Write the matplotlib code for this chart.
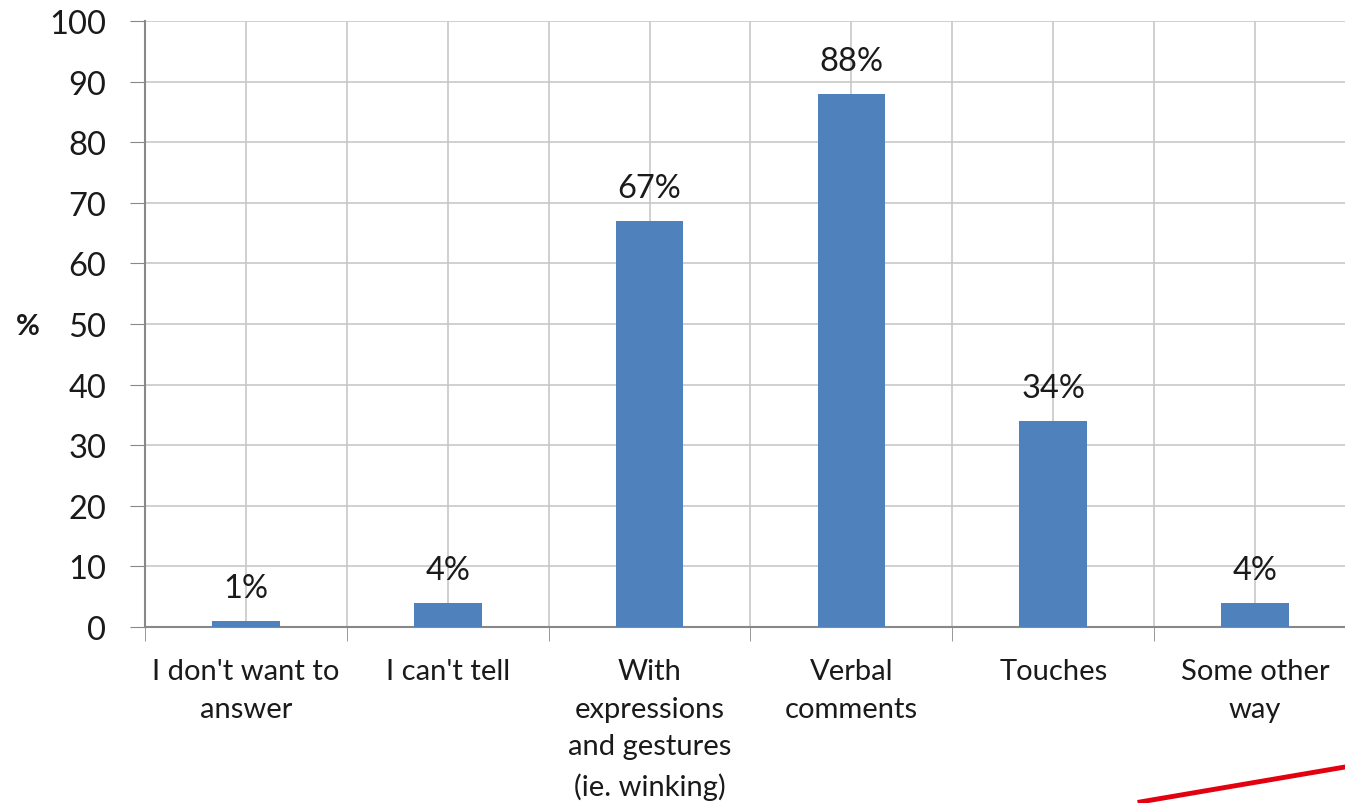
"""Bar chart: ways of harassment, % of respondents."""

import matplotlib

matplotlib.use("Agg")
import matplotlib.pyplot as plt  # noqa: E402
from matplotlib.lines import Line2D  # noqa: E402
import numpy as np  # noqa: E402

categories = [
    "I don't want to\nanswer",
    "I can't tell",
    "With\nexpressions\nand gestures\n(ie. winking)",
    "Verbal\ncomments",
    "Touches",
    "Some other\nway",
]
values = [1, 4, 67, 88, 34, 4]
value_labels = ["1%", "4%", "67%", "88%", "34%", "4%"]
yticks = list(range(0, 101, 10))

plt.rcParams["font.family"] = ["Lato", "DejaVu Sans"]

fig = plt.figure(figsize=(13.45, 8.04), dpi=100)
ax = fig.add_axes([145 / 1345, 176 / 804, 1211 / 1345, 606 / 804])

x = np.arange(len(categories))
ax.bar(x, values, width=0.335, color="#4f81bd", zorder=3)

for xi, v, lab in zip(x, values, value_labels):
    ax.annotate(lab, (xi, v), xytext=(0, 13), textcoords="offset points",
                ha="center", va="bottom", fontsize=23.5, color="#1a1a1a")

ax.set_xlim(-0.5, len(categories) - 0.5)
ax.set_ylim(0, 100)
ax.set_yticks(yticks)
ax.tick_params(axis="y", labelsize=23.5, length=11, color="#888888",
               pad=17, labelcolor="#1a1a1a")

ax.set_xticks(x)
ax.set_xticklabels(categories, fontsize=21, linespacing=1.57,
                   color="#1a1a1a", va="top")
ax.tick_params(axis="x", which="major", length=0, pad=22)
ax.set_xticks(np.arange(-0.5, len(categories)), minor=True)
ax.tick_params(axis="x", which="minor", length=10, color="#888888")

ax.grid(True, which="both", color="#c8c8c8", lw=1.2, zorder=0)
ax.set_axisbelow(True)
for side in ("top", "right"):
    ax.spines[side].set_visible(False)
for side in ("left", "bottom"):
    ax.spines[side].set_color("#888888")
    ax.spines[side].set_linewidth(1.5)

fig.text(28 / 1345, 1 - 327 / 804, "%", fontsize=21, fontweight="bold",
         ha="center", va="center", color="#1a1a1a")

# red decoration line at the bottom right
fig.add_artist(Line2D([1140 / 1345, 1.0], [1 / 804, 36 / 804],
                      transform=fig.transFigure, color="#e3000f", lw=3.5))

fig.savefig("out.png", dpi=100)
